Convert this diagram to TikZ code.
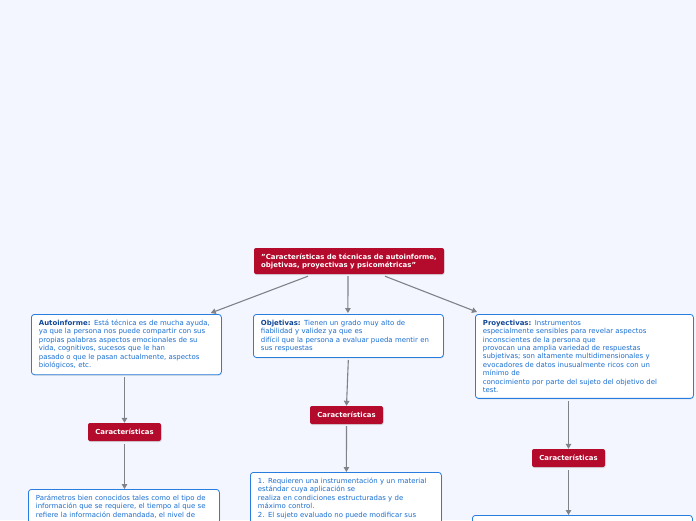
\documentclass[tikz,border=0pt]{standalone}
\usepackage{fontspec}
\setmainfont{DejaVu Sans}
\usetikzlibrary{positioning,calc,arrows.meta,shadows}
\definecolor{PaperBlue}{RGB}{243,246,254}
\definecolor{TopicRed}{RGB}{180,10,44}
\definecolor{LineBlue}{RGB}{40,125,222}
\definecolor{InkBlue}{RGB}{24,110,210}
\definecolor{DarkInk}{RGB}{16,70,150}
\definecolor{ArrowGray}{RGB}{128,130,136}
\tikzset{
	rootbox/.style={fill=TopicRed,rounded corners=2pt,text=white,align=left,
		font=\fontsize{6.95}{8}\selectfont\bfseries,inner xsep=6pt,inner ysep=4pt,
		minimum width=190pt,minimum height=26pt,drop shadow={shadow xshift=0.6pt,shadow yshift=-1pt,opacity=0.25}},
	subbox/.style={fill=TopicRed,rounded corners=2pt,text=white,
		font=\fontsize{6.9}{8}\selectfont\bfseries,inner sep=0pt,
		minimum width=73pt,minimum height=18pt,drop shadow={shadow xshift=0.6pt,shadow yshift=-1pt,opacity=0.25}},
	info/.style={draw=LineBlue,line width=0.8pt,fill=white,rounded corners=3pt,text=InkBlue,
		font=\fontsize{6.95}{8.45}\selectfont,align=left,anchor=north west,
		inner xsep=7.5pt,inner ysep=5.5pt,drop shadow={shadow xshift=0.6pt,shadow yshift=-1pt,opacity=0.25}},
	link/.style={draw=ArrowGray,line width=1.1pt,-{Triangle[width=5.5pt,length=5pt]}},
}
\newcommand{\hd}[1]{\textcolor{DarkInk}{\bfseries #1}}

\begin{document}
\begin{tikzpicture}[x=1pt,y=-1pt]
	\path[use as bounding box,fill=PaperBlue] (0,0) rectangle (696,520);
	\clip (0,0) rectangle (696,520);
	\node[rootbox] (root) at (349,261) {"Características de técnicas de autoinforme,\\objetivas, proyectivas y psicométricas"};
	\node[info,text width=175pt] (auto) at (31,314) {\hd{Autoinforme:} Está técnica es de mucha ayuda,\\ya que la persona nos puede compartir con sus\\propias palabras aspectos emocionales de su\\vida, cognitivos, sucesos que le han\\pasado o que le pasan actualmente, aspectos\\biológicos, etc.};
	\node[info,text width=175pt] (obj) at (253,314) {\hd{Objetivas:} Tienen un grado muy alto de\\fiabilidad y validez ya que es\\difícil que la persona a evaluar pueda mentir en\\sus respuestas};
	\node[info,text width=203pt] (proy) at (475,314) {\hd{Proyectivas:} Instrumentos\\especialmente sensibles para revelar aspectos\\inconscientes de la persona que\\provocan una amplia variedad de respuestas\\subjetivas; son altamente multidimensionales y\\evocadores de datos inusualmente ricos con un\\mínimo de\\conocimiento por parte del sujeto del objetivo del\\test.};
	\node[subbox] (car1) at (124.5,432) {Características};
	\node[subbox] (car2) at (346.5,415) {Características};
	\node[subbox] (car3) at (568.5,458) {Características};
	\node[info,text width=176pt] (par1) at (28,489) {Parámetros bien conocidos tales como el tipo de\\información que se requiere, el tiempo al que se\\refiere la información demandada, el nivel de\\};
	\node[info,text width=176pt] (par2) at (250,472) {1. Requieren una instrumentación y un material\\estándar cuya aplicación se\\realiza en condiciones estructuradas y de\\máximo control.\\2. El sujeto evaluado no puede modificar sus\\};
	\node[info,text width=205pt,minimum height=60pt] (par3) at (472,515) {};
	\draw[link] ($(root.south)+(-41,2)$) -- ($(auto.north east)+(-11,-1)$);
	\draw[link] ($(root.south)+(-1,2)$) -- ($(obj.north)+(-0.5,-1)$);
	\draw[link] ($(root.south)+(36,2)$) -- ($(proy.north west)+(2,-2)$);
	\draw[link,shorten <=2pt] (auto.south -| car1) -- (car1.north);
	\draw[link,shorten <=2pt] (obj.south) -- (car2.north);
	\draw[link,shorten <=2pt] (proy.south -| car3) -- (car3.north);
	\draw[link,shorten <=3pt] (car1.south) -- (car1.south |- par1.north);
	\draw[link,shorten <=2pt] (car2.south) -- ($(par2.north)+(0.5,0)$);
	\draw[link,shorten <=3pt] (car3.south) -- (car3.south |- par3.north);
\end{tikzpicture}
\end{document}
